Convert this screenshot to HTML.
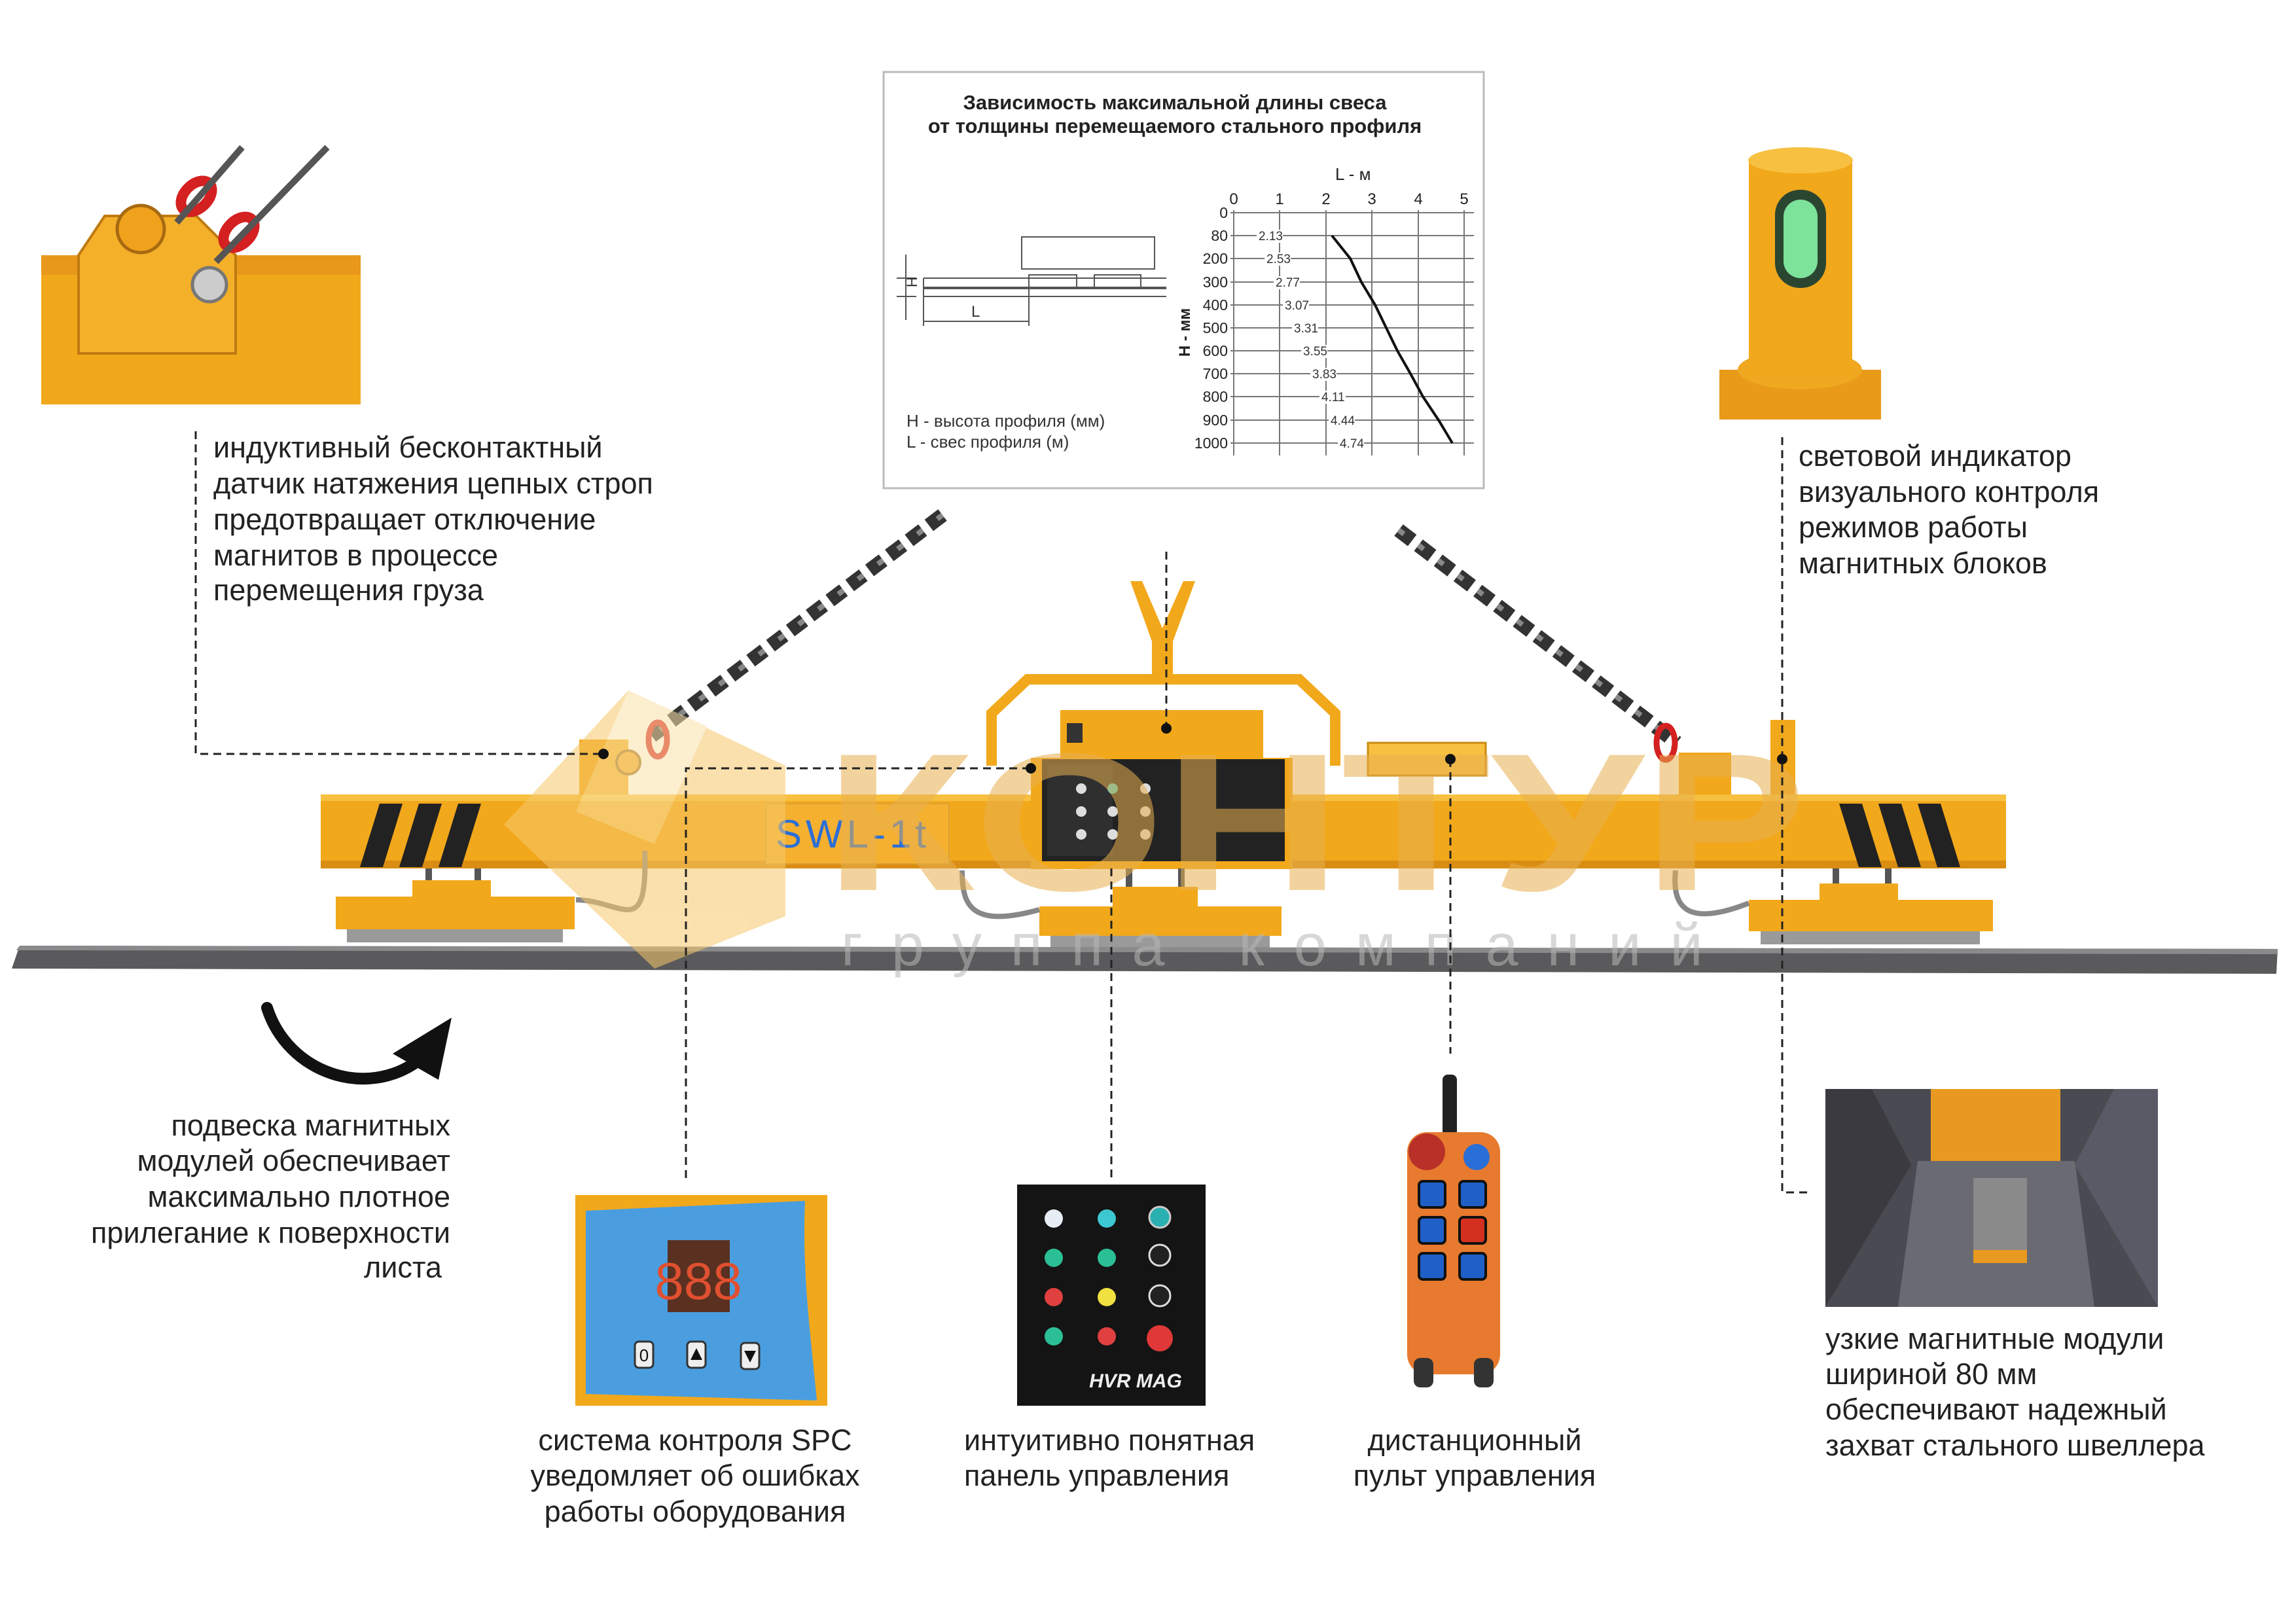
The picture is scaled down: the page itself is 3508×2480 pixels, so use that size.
<!DOCTYPE html>
<html><head><meta charset="utf-8"><style>
html,body{margin:0;padding:0;background:#fff}
svg{display:block}
text{font-family:"Liberation Sans",sans-serif}
</style></head><body>
<svg width="3508" height="2480" viewBox="0 0 3508 2480" xmlns="http://www.w3.org/2000/svg">
<rect width="3508" height="2480" fill="#fff"/>

<!-- ===== CHART ===== -->
<rect x="1350" y="110" width="917" height="636" fill="#fff" stroke="#bbb" stroke-width="3"/>
<text x="1795" y="167" font-size="31" font-weight="bold" text-anchor="middle" fill="#222">Зависимость максимальной длины свеса</text>
<text x="1795" y="203" font-size="31" font-weight="bold" text-anchor="middle" fill="#222">от толщины перемещаемого стального профиля</text>
<g stroke="#555" stroke-width="2" fill="none">
<rect x="1561" y="362" width="203" height="49"/>
<line x1="1411" y1="425" x2="1782" y2="425"/>
<line x1="1411" y1="440" x2="1782" y2="440" stroke-width="4"/>
<line x1="1411" y1="453" x2="1782" y2="453"/>
<rect x="1572" y="420" width="73" height="20"/>
<rect x="1672" y="420" width="71" height="20"/>
<line x1="1411" y1="425" x2="1411" y2="498"/>
<line x1="1572" y1="440" x2="1572" y2="498"/>
<line x1="1384" y1="389" x2="1384" y2="489"/>
<line x1="1370" y1="425" x2="1400" y2="425"/><line x1="1370" y1="453" x2="1400" y2="453"/>
<line x1="1411" y1="491" x2="1572" y2="491"/>
</g>
<text x="1393" y="447" font-size="22" fill="#333" transform="rotate(-90 1393 439)">Н</text>
<text x="1484" y="484" font-size="24" fill="#333">L</text>
<text x="1385" y="652" font-size="26" fill="#333">Н - высота профиля (мм)</text>
<text x="1385" y="684" font-size="26" fill="#333">L - свес профиля (м)</text>
<text x="2040" y="275" font-size="26" fill="#222">L - м</text>
<g stroke="#777" stroke-width="2">
<line x1="1885" y1="321" x2="1885" y2="696"/><line x1="1955" y1="321" x2="1955" y2="696"/><line x1="2026" y1="321" x2="2026" y2="696"/><line x1="2096" y1="321" x2="2096" y2="696"/><line x1="2167" y1="321" x2="2167" y2="696"/><line x1="2237" y1="321" x2="2237" y2="696"/>
</g>
<g font-size="24" fill="#222" text-anchor="middle">
<text x="1885" y="312">0</text><text x="1955" y="312">1</text><text x="2026" y="312">2</text><text x="2096" y="312">3</text><text x="2167" y="312">4</text><text x="2237" y="312">5</text>
</g>
<g stroke="#777" stroke-width="2">
<line x1="1880" y1="325" x2="2252" y2="325"/><line x1="1880" y1="360" x2="2252" y2="360"/><line x1="1880" y1="395" x2="2252" y2="395"/><line x1="1880" y1="431" x2="2252" y2="431"/><line x1="1880" y1="466" x2="2252" y2="466"/><line x1="1880" y1="501" x2="2252" y2="501"/><line x1="1880" y1="536" x2="2252" y2="536"/><line x1="1880" y1="571" x2="2252" y2="571"/><line x1="1880" y1="606" x2="2252" y2="606"/><line x1="1880" y1="642" x2="2252" y2="642"/><line x1="1880" y1="677" x2="2252" y2="677"/>
</g>
<g font-size="23" fill="#222" text-anchor="end">
<text x="1876" y="333">0</text><text x="1876" y="368">80</text><text x="1876" y="403">200</text><text x="1876" y="439">300</text><text x="1876" y="474">400</text><text x="1876" y="509">500</text><text x="1876" y="544">600</text><text x="1876" y="579">700</text><text x="1876" y="614">800</text><text x="1876" y="650">900</text><text x="1876" y="685">1000</text>
</g>
<g font-size="19" fill="#333">
<rect x="1920" y="351" width="40" height="20" fill="#fff"/><text x="1923" y="367">2.13</text>
<rect x="1932" y="386" width="40" height="20" fill="#fff"/><text x="1935" y="402">2.53</text>
<rect x="1946" y="422" width="40" height="20" fill="#fff"/><text x="1949" y="438">2.77</text>
<rect x="1960" y="457" width="40" height="20" fill="#fff"/><text x="1963" y="473">3.07</text>
<rect x="1974" y="492" width="40" height="20" fill="#fff"/><text x="1977" y="508">3.31</text>
<rect x="1988" y="527" width="40" height="20" fill="#fff"/><text x="1991" y="543">3.55</text>
<rect x="2002" y="562" width="40" height="20" fill="#fff"/><text x="2005" y="578">3.83</text>
<rect x="2016" y="597" width="40" height="20" fill="#fff"/><text x="2019" y="613">4.11</text>
<rect x="2030" y="633" width="40" height="20" fill="#fff"/><text x="2033" y="649">4.44</text>
<rect x="2044" y="668" width="40" height="20" fill="#fff"/><text x="2047" y="684">4.74</text>
</g>
<polyline points="2035,360 2063,395 2080,431 2101,466 2118,501 2135,536 2155,571 2174,606 2198,642 2219,677" fill="none" stroke="#111" stroke-width="4"/>
<text x="1818" y="508" font-size="24" font-weight="bold" fill="#222" text-anchor="middle" transform="rotate(-90 1818 508)">Н - мм</text>

<!-- ===== TOP-LEFT PHOTO ===== -->
<rect x="63" y="390" width="488" height="228" fill="#f2a81b"/>
<rect x="63" y="390" width="488" height="30" fill="#e8981a"/>
<polygon points="120,390 160,330 300,330 360,390 360,540 120,540" fill="#f5b02a" stroke="#c07a10" stroke-width="4"/>
<circle cx="215" cy="350" r="36" fill="#f0a21c" stroke="#a86a10" stroke-width="5"/>
<circle cx="320" cy="435" r="26" fill="#ccc" stroke="#777" stroke-width="5"/>
<g stroke="#d42020" stroke-width="16" fill="none">
<ellipse cx="300" cy="300" rx="28" ry="18" transform="rotate(-45 300 300)"/>
<ellipse cx="365" cy="355" rx="28" ry="18" transform="rotate(-45 365 355)"/>
</g>
<g stroke="#555" stroke-width="10" fill="none">
<line x1="270" y1="340" x2="370" y2="225"/><line x1="330" y1="400" x2="500" y2="225"/>
</g>

<!-- ===== LAMP PHOTO ===== -->
<rect x="2627" y="565" width="247" height="76" fill="#e89a18"/>
<ellipse cx="2750" cy="565" rx="95" ry="30" fill="#f0a820"/>
<rect x="2672" y="245" width="158" height="330" fill="#f2a81b"/>
<ellipse cx="2751" cy="245" rx="80" ry="20" fill="#f7c040"/>
<rect x="2712" y="290" width="78" height="150" rx="38" fill="#2b4630"/>
<rect x="2725" y="305" width="52" height="120" rx="26" fill="#7de39a"/>

<!-- ===== ANNOTATION TEXTS TOP ===== -->
<g font-size="45" fill="#222">
<text x="326" y="699">индуктивный бесконтактный</text>
<text x="326" y="754">датчик натяжения цепных строп</text>
<text x="326" y="809">предотвращает отключение</text>
<text x="326" y="864">магнитов в процессе</text>
<text x="326" y="917">перемещения груза</text>
<text x="2748" y="712">световой индикатор</text>
<text x="2748" y="767">визуального контроля</text>
<text x="2748" y="821">режимов работы</text>
<text x="2748" y="876">магнитных блоков</text>
</g>

<!-- ===== CHAINS ===== -->
<line x1="1440" y1="787" x2="995" y2="1125" stroke="#333" stroke-width="22" stroke-dasharray="26 12"/>
<line x1="1440" y1="787" x2="995" y2="1125" stroke="#888" stroke-width="8" stroke-dasharray="10 28"/>
<line x1="2137" y1="810" x2="2562" y2="1135" stroke="#333" stroke-width="22" stroke-dasharray="26 12"/>
<line x1="2137" y1="810" x2="2562" y2="1135" stroke="#888" stroke-width="8" stroke-dasharray="10 28"/>
<ellipse cx="1005" cy="1130" rx="14" ry="26" fill="none" stroke="#d42020" stroke-width="9"/>
<ellipse cx="2545" cy="1135" rx="14" ry="26" fill="none" stroke="#d42020" stroke-width="9"/>

<!-- ===== LIFTING BEAM ===== -->
<polygon points="1727,888 1760,980 1760,1040 1792,1040 1792,980 1826,888 1808,888 1776,960 1745,888" fill="#f2a81b"/>
<path d="M1515,1170 L1515,1090 L1570,1038 L1985,1038 L2040,1090 L2040,1170" fill="none" stroke="#f2a81b" stroke-width="16"/>
<rect x="1620" y="1085" width="310" height="85" fill="#f2a81b"/>
<rect x="1630" y="1105" width="24" height="30" fill="#333"/>
<rect x="2090" y="1135" width="180" height="50" fill="#f7c040" stroke="#c98a10" stroke-width="3"/>
<rect x="885" y="1130" width="75" height="110" fill="#f2a81b"/>
<circle cx="960" cy="1165" r="18" fill="#f0a21c" stroke="#a06a10" stroke-width="4"/>
<rect x="2565" y="1150" width="80" height="70" fill="#f2a81b"/>
<rect x="2705" y="1100" width="38" height="120" fill="#f2a81b"/>
<rect x="490" y="1214" width="2575" height="113" fill="#f2a81b"/>
<rect x="490" y="1214" width="2575" height="10" fill="#f7c040"/>
<rect x="490" y="1315" width="2575" height="12" fill="#d98d12"/>
<g fill="#222">
<polygon points="580,1228 615,1228 585,1325 550,1325"/><polygon points="640,1228 675,1228 645,1325 610,1325"/><polygon points="700,1228 735,1228 705,1325 670,1325"/>
<polygon points="2810,1228 2845,1228 2875,1325 2840,1325"/><polygon points="2870,1228 2905,1228 2935,1325 2900,1325"/><polygon points="2930,1228 2965,1228 2995,1325 2960,1325"/>
</g>
<rect x="1170" y="1228" width="280" height="92" fill="#f5b030" stroke="#dca030" stroke-width="2"/>
<text x="1185" y="1295" font-size="60" font-family="Liberation Mono,monospace" fill="#2a6ed8" letter-spacing="6">SWL-1t</text>
<rect x="1575" y="1158" width="400" height="170" fill="#f2a81b"/>
<rect x="1592" y="1160" width="371" height="156" fill="#222"/>
<rect x="1600" y="1168" width="100" height="140" fill="#2f2f2f"/>
<g fill="#ddd"><circle cx="1652" cy="1205" r="8"/><circle cx="1700" cy="1205" r="8" fill="#4cc"/><circle cx="1750" cy="1205" r="8"/><circle cx="1652" cy="1240" r="8"/><circle cx="1700" cy="1240" r="8"/><circle cx="1750" cy="1240" r="8"/><circle cx="1652" cy="1275" r="8"/><circle cx="1700" cy="1275" r="8"/><circle cx="1750" cy="1275" r="8"/></g>
<g fill="#555"><rect x="650" y="1327" width="10" height="40"/><rect x="725" y="1327" width="10" height="40"/><rect x="1720" y="1327" width="10" height="40"/><rect x="1800" y="1327" width="10" height="40"/><rect x="2800" y="1327" width="10" height="40"/><rect x="2880" y="1327" width="10" height="40"/></g>
<rect x="513" y="1370" width="365" height="50" fill="#f2a81b"/><rect x="630" y="1345" width="120" height="30" fill="#f2a81b"/>
<rect x="1588" y="1385" width="370" height="45" fill="#f2a81b"/><rect x="1700" y="1355" width="130" height="35" fill="#f2a81b"/>
<rect x="2672" y="1375" width="373" height="48" fill="#f2a81b"/><rect x="2780" y="1350" width="120" height="30" fill="#f2a81b"/>
<g fill="#9a9a9a">
<rect x="530" y="1420" width="330" height="20"/><rect x="1605" y="1430" width="335" height="18"/><rect x="2690" y="1423" width="335" height="20"/>
</g>
<path d="M880,1375 C950,1375 990,1440 985,1300" fill="none" stroke="#888" stroke-width="8"/>
<path d="M1588,1390 C1480,1420 1470,1380 1470,1330" fill="none" stroke="#888" stroke-width="8"/>
<path d="M2672,1380 C2570,1420 2555,1380 2560,1330" fill="none" stroke="#888" stroke-width="8"/>
<polygon points="30,1445 3480,1450 3478,1488 18,1480" fill="#5a5a5c"/>
<polygon points="30,1445 3480,1450 3480,1458 25,1452" fill="#8a8a8c"/>

<!-- ===== WATERMARK ===== -->
<g opacity="0.55">
<polygon points="960,1055 1200,1170 1200,1400 1000,1480 770,1260" fill="#f7c86a"/>
<polygon points="960,1055 1080,1110 1000,1290 880,1240" fill="#fbe3a8"/>
<text x="1260" y="1360" font-size="300" font-weight="bold" fill="#e8b050" textLength="1500" lengthAdjust="spacingAndGlyphs">КОНТУР</text>
<text x="1285" y="1475" font-size="90" fill="#b8b8b8" letter-spacing="44">группа компаний</text>
</g>

<!-- ===== DASHED LEADERS ===== -->
<g stroke="#222" stroke-width="3" stroke-dasharray="12 8" fill="none">
<polyline points="299,659 299,1152 922,1152"/>
<polyline points="1048,1800 1048,1174 1575,1174"/>
<line x1="1698" y1="1327" x2="1698" y2="1800"/>
<line x1="1782" y1="843" x2="1782" y2="1113"/>
<line x1="2216" y1="1160" x2="2216" y2="1610"/>
<polyline points="2723,668 2723,1822 2762,1822"/>
</g>
<g fill="#111"><circle cx="922" cy="1152" r="8"/><circle cx="1575" cy="1174" r="8"/><circle cx="1782" cy="1113" r="8"/><circle cx="2216" cy="1160" r="8"/><circle cx="2723" cy="1160" r="8"/></g>

<!-- ===== CURVED ARROW ===== -->
<path d="M408,1540 C440,1640 560,1680 640,1620" fill="none" stroke="#111" stroke-width="18" stroke-linecap="round"/>
<polygon points="690,1555 670,1650 600,1610" fill="#111"/>

<!-- ===== BOTTOM TEXTS ===== -->
<g font-size="45" fill="#222">
<g text-anchor="end">
<text x="688" y="1735">подвеска магнитных</text>
<text x="688" y="1789">модулей обеспечивает</text>
<text x="688" y="1844">максимально плотное</text>
<text x="688" y="1899">прилегание к поверхности</text>
<text x="675" y="1952">листа</text>
</g>
<g text-anchor="middle">
<text x="1062" y="2216">система контроля SPC</text>
<text x="1062" y="2270">уведомляет об ошибках</text>
<text x="1062" y="2325">работы оборудования</text>
<text x="2253" y="2216">дистанционный</text>
<text x="2253" y="2270">пульт управления</text>
</g>
<text x="1473" y="2216">интуитивно понятная</text>
<text x="1473" y="2270">панель управления</text>
<text x="2789" y="2061">узкие магнитные модули</text>
<text x="2789" y="2115">шириной 80 мм</text>
<text x="2789" y="2169">обеспечивают надежный</text>
<text x="2789" y="2224">захват стального швеллера</text>
</g>

<!-- ===== SPC PHOTO ===== -->
<rect x="879" y="1826" width="385" height="322" fill="#f2a81b"/>
<path d="M895,1850 L1230,1835 C1225,1950 1240,2050 1248,2140 L895,2130 Z" fill="#4a9ee0"/>
<rect x="1020" y="1895" width="95" height="110" fill="#5a3020"/>
<text x="1067" y="1985" font-size="80" font-family="Liberation Mono,monospace" fill="#e05030" text-anchor="middle">888</text>
<g fill="#eee" stroke="#333" stroke-width="3"><rect x="970" y="2050" width="28" height="40" rx="6"/><rect x="1050" y="2050" width="28" height="40" rx="6"/><rect x="1132" y="2052" width="28" height="40" rx="6"/></g>
<text x="984" y="2080" font-size="26" text-anchor="middle" fill="#111">0</text>
<polygon points="1064,2060 1073,2078 1055,2078" fill="#111"/><polygon points="1137,2064 1155,2064 1146,2082" fill="#111"/>

<!-- ===== CONTROL PANEL PHOTO ===== -->
<rect x="1554" y="1810" width="288" height="338" fill="#141414"/>
<g>
<circle cx="1610" cy="1862" r="14" fill="#e8ecf4"/><circle cx="1691" cy="1862" r="14" fill="#3cc8d0"/><circle cx="1772" cy="1860" r="16" fill="#2ab0b0" stroke="#ccc" stroke-width="3"/>
<circle cx="1610" cy="1922" r="14" fill="#2bbf95"/><circle cx="1691" cy="1922" r="14" fill="#2bbf95"/><circle cx="1772" cy="1918" r="16" fill="#222" stroke="#ddd" stroke-width="3"/>
<circle cx="1610" cy="1982" r="14" fill="#e04040"/><circle cx="1691" cy="1982" r="14" fill="#f0e040"/><circle cx="1772" cy="1980" r="16" fill="#222" stroke="#ddd" stroke-width="3"/>
<circle cx="1610" cy="2042" r="14" fill="#2bbf95"/><circle cx="1691" cy="2042" r="14" fill="#e04040"/><circle cx="1772" cy="2045" r="20" fill="#e03838"/>
</g>
<text x="1735" y="2120" font-size="30" font-weight="bold" font-style="italic" fill="#eee" text-anchor="middle">HVR MAG</text>

<!-- ===== REMOTE ===== -->
<rect x="2204" y="1642" width="22" height="100" rx="8" fill="#222"/>
<rect x="2150" y="1730" width="142" height="370" rx="30" fill="#e77a2e"/>
<circle cx="2180" cy="1760" r="28" fill="#b83028"/><circle cx="2256" cy="1768" r="20" fill="#2a6ed8"/>
<g fill="#1f5fc8" stroke="#111" stroke-width="4">
<rect x="2168" y="1805" width="40" height="40" rx="6"/><rect x="2230" y="1805" width="40" height="40" rx="6"/>
<rect x="2168" y="1860" width="40" height="40" rx="6"/><rect x="2230" y="1860" width="40" height="40" rx="6" fill="#d43020"/>
<rect x="2168" y="1915" width="40" height="40" rx="6"/><rect x="2230" y="1915" width="40" height="40" rx="6"/>
</g>
<rect x="2160" y="2075" width="30" height="45" rx="10" fill="#333"/><rect x="2252" y="2075" width="30" height="45" rx="10" fill="#333"/>

<!-- ===== CHANNEL PHOTO ===== -->
<rect x="2789" y="1664" width="508" height="333" fill="#4a4a52"/>
<polygon points="2789,1664 2860,1664 2920,1780 2789,1997" fill="#3a3a40"/>
<polygon points="3297,1664 3230,1664 3170,1780 3297,1997" fill="#5a5a66"/>
<rect x="2950" y="1664" width="198" height="110" fill="#e89a20"/>
<polygon points="2930,1774 3170,1774 3200,1997 2900,1997" fill="#6a6a72"/>
<rect x="3015" y="1800" width="82" height="130" fill="#8a8a8a"/>
<rect x="3015" y="1910" width="82" height="20" fill="#e89a20"/>
</svg>
</body></html>
